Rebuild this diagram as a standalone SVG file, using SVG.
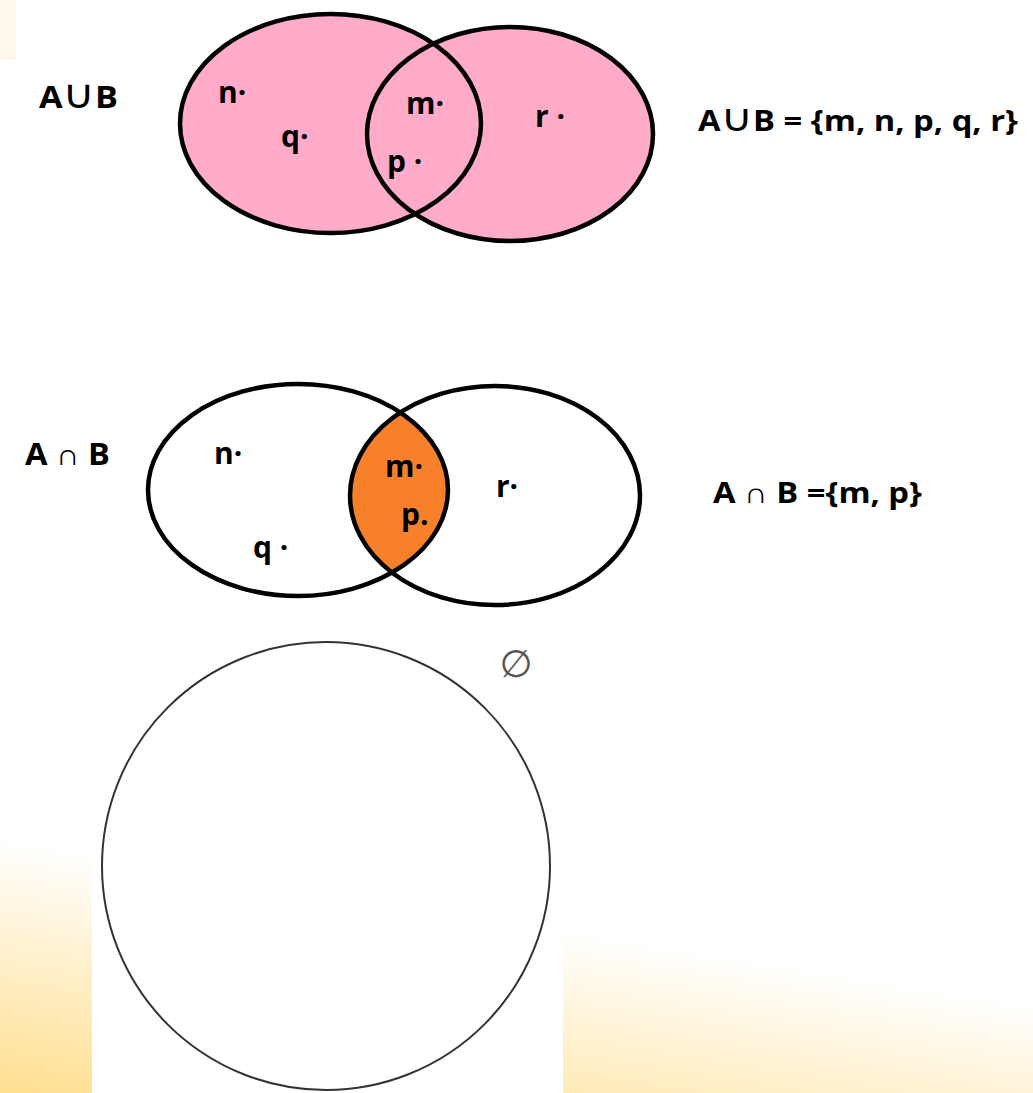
<svg xmlns="http://www.w3.org/2000/svg" width="1033" height="1093" viewBox="0 0 1033 1093">
  <style>
    .lbl { font-family: "Open Sans", "Liberation Sans", "DejaVu Sans", sans-serif; font-weight: 700; fill: #000; }
    .el { font-family: "Open Sans", "Liberation Sans", "DejaVu Sans", sans-serif; font-weight: 700; font-size: 30px; fill: #000; }
    .cup { font-family: "DejaVu Sans", sans-serif; font-weight: 400; }
    .set { stroke: #000; stroke-width: 4.5; }
  </style>
  <defs>
    <linearGradient id="bg" gradientUnits="userSpaceOnUse" x1="40" y1="845" x2="0" y2="1093">
      <stop offset="0" stop-color="#ffffff"/>
      <stop offset="1" stop-color="#ffdf90"/>
    </linearGradient>
    <clipPath id="clipA2">
      <ellipse cx="298" cy="490" rx="150" ry="106"/>
    </clipPath>
  </defs>

  <!-- background -->
  <rect x="0" y="0" width="1033" height="1093" fill="url(#bg)"/>
  <rect x="0" y="0" width="16" height="60" fill="#fff8ec"/>
  <rect x="92" y="620" width="471" height="473" fill="#ffffff"/>

  <!-- Union diagram -->
  <g id="union">
    <ellipse cx="330.5" cy="123.5" rx="150.5" ry="109.5" fill="#ffabc9"/>
    <ellipse cx="510" cy="134" rx="143" ry="107" fill="#ffabc9"/>
    <ellipse class="set" cx="330.5" cy="123.5" rx="150.5" ry="109.5" fill="none"/>
    <ellipse class="set" cx="510" cy="134" rx="143" ry="107" fill="none"/>
    <text class="el" x="218" y="103">n·</text>
    <text class="el" x="281" y="147">q·</text>
    <text class="el" x="406" y="114">m·</text>
    <text class="el" x="387" y="172">p ·</text>
    <text class="el" x="535" y="127">r ·</text>
  </g>
  <g id="union-label">
    <text class="lbl" x="39" y="108" font-size="31" textLength="79" lengthAdjust="spacingAndGlyphs">A<tspan class="cup" font-size="40">∪</tspan>B</text>
  </g>
  <g id="union-result">
    <text class="lbl" x="698" y="131" font-size="28" textLength="320" lengthAdjust="spacingAndGlyphs">A<tspan class="cup" font-size="38">∪</tspan>B = {m, n, p, q, r}</text>
  </g>

  <!-- Intersection diagram -->
  <g id="intersection">
    <ellipse cx="495" cy="495.5" rx="145" ry="109.5" fill="#f8802a" clip-path="url(#clipA2)"/>
    <ellipse class="set" cx="298" cy="490" rx="150" ry="106" fill="none"/>
    <ellipse class="set" cx="495" cy="495.5" rx="145" ry="109.5" fill="none"/>
    <text class="el" x="214" y="464">n·</text>
    <text class="el" x="253" y="558">q ·</text>
    <text class="el" x="385" y="477">m·</text>
    <text class="el" x="401" y="525">p.</text>
    <text class="el" x="496" y="497">r·</text>
  </g>
  <g id="intersection-label">
    <text class="lbl" x="25" y="465" font-size="30" textLength="85" lengthAdjust="spacingAndGlyphs">A ∩ B</text>
  </g>
  <g id="intersection-result">
    <text class="lbl" x="713" y="503" font-size="29" textLength="209" lengthAdjust="spacingAndGlyphs">A ∩ B ={m, p}</text>
  </g>

  <!-- Empty set diagram -->
  <g id="empty-set">
    <circle cx="326" cy="866" r="224" fill="none" stroke="#333" stroke-width="2"/>
    <text x="516" y="677" font-family="DejaVu Sans, sans-serif" font-size="38" fill="#555" text-anchor="middle">∅</text>
  </g>
</svg>
